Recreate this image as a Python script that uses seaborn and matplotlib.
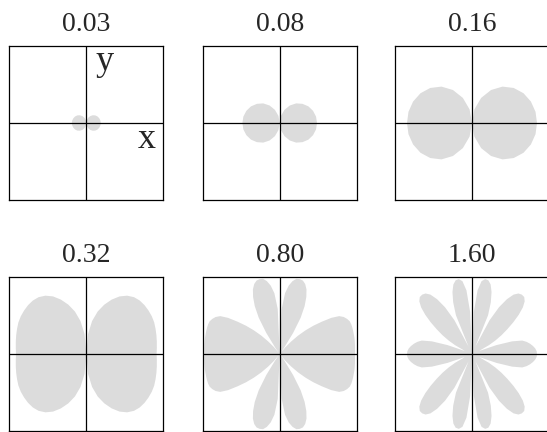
import numpy as np
import matplotlib
matplotlib.use("Agg")
import matplotlib.pyplot as plt
import seaborn as sns

# panel titles
titles = ["0.03", "0.08", "0.16", "0.32", "0.80", "1.60"]

# angles (deg, from +x axis) of the sampled radii in one quadrant
ang_10 = [0, 10, 20, 30, 40, 50, 60, 70, 80, 90]
ang_5 = [0, 5, 10, 15, 20, 25, 30, 35, 40, 45, 50, 55, 60, 65, 70, 75, 80, 85, 90]
ang_2p5 = [0, 2.5, 5, 7.5, 10, 12.5, 15, 17.5, 20, 22.5, 25, 27.5, 30, 32.5,
           35, 37.5, 40, 42.5, 45, 47.5, 50, 52.5, 55, 57.5, 60, 62.5, 65,
           67.5, 70, 72.5, 75, 77.5, 80, 82.5, 85, 87.5, 90]

# pattern radius (panel half width = 77)
r_003 = [14.5, 14.3, 13.8, 13.0, 11.8, 10.1, 8.0, 5.6, 2.9, 0]
r_008 = [37.3, 36.9, 35.5, 33.2, 29.8, 25.6, 20.2, 14.0, 7.2, 0]
r_016 = [65.0, 64.5, 62.7, 59.5, 54.5, 47.5, 38.1, 26.7, 13.8, 0]
r_032 = [70.3, 70.8, 71.6, 72.6, 73.7, 74.9, 75.6, 75.9, 76.0, 75.6, 74.2,
         71.2, 66.5, 60.0, 52.5, 44.0, 33.5, 20.0, 0]
r_080 = [75.3, 75.4, 75.6, 75.9, 76.2, 76.5, 76.7, 77.0, 77.3, 77.5, 77.3,
         76.0, 74.0, 70.5, 63.0, 53.0, 44.0, 35.0, 26.0, 17.0, 9.0, 2.0,
         8.0, 25.0, 42.0, 54.0, 63.0, 70.0, 74.5, 77.0, 77.5, 77.0, 74.0,
         69.0, 61.0, 45.0, 0]
r_160 = [65.0, 64.7, 63.5, 61.5, 59.0, 56.0, 52.0, 42.0, 26.0, 8.0, 10.0,
         19.0, 27.0, 35.0, 43.0, 52.0, 61.0, 69.0, 74.5, 77.3, 77.5, 76.3,
         72.5, 65.0, 54.0, 38.0, 8.0, 42.0, 55.0, 65.0, 72.0, 75.5, 76.0,
         73.5, 64.0, 42.0, 0]

angles = [ang_10, ang_10, ang_10, ang_5, ang_2p5, ang_2p5]
radii = [r_003, r_008, r_016, r_032, r_080, r_160]

sns.set_theme(style="white")
plt.rcParams["font.family"] = ["Liberation Serif", "DejaVu Serif"]

fig = plt.figure(figsize=(5.47, 4.32), dpi=100)

lefts = [9.3, 202.7, 395.0]
bottoms = [232.0, 1.0]
W, H = 547.0, 432.0
size = 154.0
lim = 77.0
fill_color = "#dcdcdc"

for i, (title, ang, r) in enumerate(zip(titles, angles, radii)):
    row, col = divmod(i, 3)
    ax = fig.add_axes([lefts[col] / W, bottoms[row] / H, size / W, size / H])

    # mirror the quadrant into the full pattern
    a = np.deg2rad(np.array(ang, dtype=float))
    rr = np.array(r, dtype=float)
    full_a = np.concatenate([a, np.pi - a[::-1], np.pi + a, 2 * np.pi - a[::-1]])
    full_r = np.concatenate([rr, rr[::-1], rr, rr[::-1]])
    ax.fill(full_r * np.cos(full_a), full_r * np.sin(full_a),
            color=fill_color, lw=0, zorder=1)

    ax.axhline(0, color="black", lw=0.9, zorder=2)
    ax.axvline(0, color="black", lw=0.9, zorder=2)
    ax.set_xlim(-lim, lim)
    ax.set_ylim(-lim, lim)
    ax.set_xticks([])
    ax.set_yticks([])
    for s in ax.spines.values():
        s.set_color("black")
        s.set_linewidth(0.9)
    ax.set_title(title, fontsize=20, pad=11)

    if i == 0:
        ax.text(9.5, 52.5, "y", fontsize=26, ha="left", va="baseline")
        ax.text(51.0, -25.5, "x", fontsize=26, ha="left", va="baseline")

fig.savefig("out.png", dpi=100)
